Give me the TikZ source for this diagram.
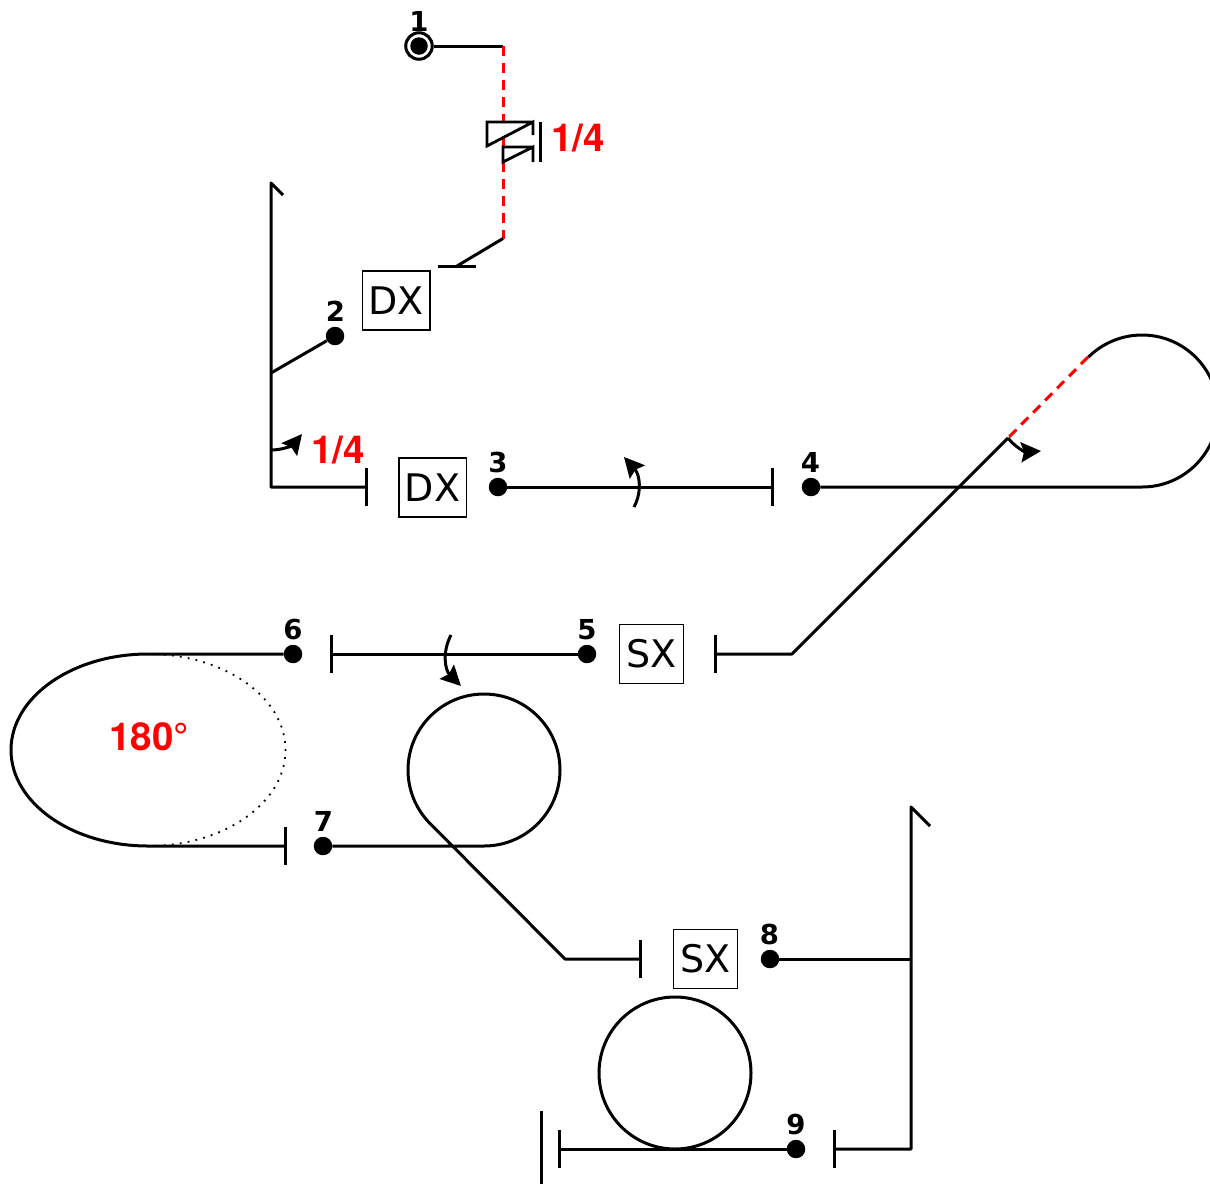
\documentclass[tikz,border=0pt]{standalone}
\usepackage{fontspec}
\setmainfont{DejaVu Sans}
\newfontfamily\redfont{TeX Gyre Heros}
\usetikzlibrary{arrows.meta}
\tikzset{
  wire/.style={line width=3pt,black,line join=round},
  thinwire/.style={line width=2.8pt,black,line join=miter},
  reddash/.style={line width=3pt,red,dash pattern=on 10pt off 7pt},
  endbar/.style={line width=3pt,black},
  dot/.style={circle,fill=black,inner sep=0pt,minimum size=18.5pt},
  num/.style={font=\fontsize{27.5}{27.5}\selectfont\bfseries,inner sep=0pt,text=black},
  redlab/.style={font=\redfont\bfseries\fontsize{38.5}{38.5}\selectfont,inner sep=0pt,text=red},
  dirbox/.style={draw=black,line width=1.5pt,inner sep=0pt,minimum height=59pt,font=\fontsize{38}{38}\selectfont},
  turn/.style={line width=3pt,black,-{Stealth[length=20pt,width=20pt,inset=3pt]}},
}
\begin{document}
\begin{tikzpicture}[x=1pt,y=1pt,yscale=-1]
\useasboundingbox (0,0) rectangle (1210,1184);
% points
\node[dot,minimum size=17.5pt] (p1) at (419,46) {};
\node[dot] (p2) at (335,336) {};
\node[dot] (p3) at (498,487) {};
\node[dot] (p4) at (811,487) {};
\node[dot] (p5) at (587,654) {};
\node[dot] (p6) at (293,654) {};
\node[dot] (p7) at (323,846) {};
\node[dot] (p8) at (770,959) {};
\node[dot] (p9) at (796,1149) {};
\node[circle,draw=black,line width=3pt,inner sep=0pt,minimum size=26.5pt] (ring1) at (419,46) {};
\node[num] (n1) at (419,21.5) {1};
\node[num] (n2) at (335.5,311.5) {2};
\node[num] (n3) at (498,462.5) {3};
\node[num] (n4) at (810.5,462.5) {4};
\node[num] (n5) at (587,629.5) {5};
\node[num] (n6) at (293,629.5) {6};
\node[num] (n7) at (323.5,821.5) {7};
\node[num] (n8) at (769.5,934.5) {8};
\node[num] (n9) at (796,1124.5) {9};
% boxes
\node[dirbox,minimum width=67.5pt] (dx1) at (396,300.5) {DX};
\node[dirbox,minimum width=67.5pt] (dx2) at (432.5,487.5) {DX};
\node[dirbox,minimum width=64pt] (sx1) at (651.5,654) {SX};
\node[dirbox,minimum width=64pt] (sx2) at (705.5,959) {SX};
% labels
\node[redlab] (l1) at (578,138) {1/4};
\node[redlab] (l2) at (338,450) {1/4};
\node[redlab] (l3) at (149,737) {180°};
% coordinates
\coordinate (a1) at (503,46);
\coordinate (a2) at (503,238.5);
\coordinate (a3) at (457,266);
\coordinate (t1) at (438,266);
\coordinate (t2) at (476,266);
\coordinate (v1) at (271,183);
\coordinate (v1h) at (283,195);
\coordinate (v1j) at (271,373);
\coordinate (v1b) at (271,487);
\coordinate (b367) at (366.5,487);
\coordinate (b773) at (772.5,487);
\coordinate (c4s) at (1142,487);
\coordinate (c4e) at (1088,357);
\coordinate (c4d) at (1008,438);
\coordinate (k5) at (792,654);
\coordinate (b716) at (715.5,654);
\coordinate (b331) at (331,654);
\coordinate (e1) at (148,654);
\coordinate (e2) at (148,846);
\coordinate (b286) at (285.5,846);
\coordinate (c7s) at (484,846);
\coordinate (c7e) at (430,824);
\coordinate (k6) at (565,959);
\coordinate (b641) at (640.5,959);
\coordinate (v2j) at (911,959);
\coordinate (v2t) at (911,807);
\coordinate (v2h) at (930,826);
\coordinate (v2b) at (911,1149);
\coordinate (b835) at (834.5,1149);
\coordinate (b560) at (559.5,1149);
% connectors
\draw[wire] (ring1.east) -- (a1);
\draw[reddash] (a1) -- (503,122);
\draw[red,line width=3pt] (503,137) -- (503,147);
\draw[reddash] (503,162) -- (a2);
\draw[wire] (a2) -- (a3);
\draw[wire] (t1) -- (t2);
% trigger symbol
\draw[thinwire] (533,122) -- (487,122) -- (487,146) -- (533,122) -- (533,135);
\draw[thinwire] (533,147) -- (503,147) -- (503,162) -- (533,147) -- (533,162);
\draw[endbar] (540,122) -- (540,162);
% left part
\draw[wire] (v1h) -- (v1) -- (v1b) -- (b367);
\draw[wire] (v1j) -- (p2);
\draw[endbar] (366.5,468) -- (366.5,506);
\draw[turn] (271,450) .. controls (283,450) and (293,445) .. (302,434);
% 3-4
\draw[wire] (p3) -- (b773);
\draw[endbar] (772.5,468) -- (772.5,506);
\draw[turn] (634,507) .. controls (642,492) and (640,475) .. (624,457);
% 4 loop
\draw[wire] (p4) -- (c4s) arc[start angle=90,end angle=-135,radius=76];
\draw[reddash] (c4e) -- (c4d);
\draw[wire] (c4d) -- (k5) -- (b716);
\draw[endbar] (715.5,635) -- (715.5,673);
\draw[turn] (1008,438) .. controls (1015,447) and (1025,452) .. (1041,451);
% 5-6
\draw[wire] (p5) -- (b331);
\draw[endbar] (331,635) -- (331,673);
\draw[turn] (451,635) .. controls (442,652) and (445,670) .. (461,686);
% ellipse
\draw[wire] (p6) -- (e1) arc[start angle=-90,end angle=-270,x radius=137,y radius=96] -- (b286);
\draw[line width=1.8pt,black,dash pattern=on 1.8pt off 6.2pt] (e1) arc[start angle=-90,end angle=90,x radius=137.5,y radius=96];
\draw[endbar] (285.5,827) -- (285.5,865);
% 7 loop
\draw[wire] (p7) -- (c7s) arc[start angle=90,end angle=-225,radius=76] -- (k6) -- (b641);
\draw[endbar] (640.5,940) -- (640.5,978);
% 8-9
\draw[wire] (p8) -- (v2j);
\draw[wire] (v2h) -- (v2t) -- (v2b) -- (b835);
\draw[endbar] (834.5,1130) -- (834.5,1168);
\draw[wire] (p9) -- (b560);
\draw[endbar] (559.5,1130) -- (559.5,1168);
\draw[endbar] (541,1111) -- (541,1184);
\draw[wire] (675,1073) circle[radius=76];
\end{tikzpicture}
\end{document}
